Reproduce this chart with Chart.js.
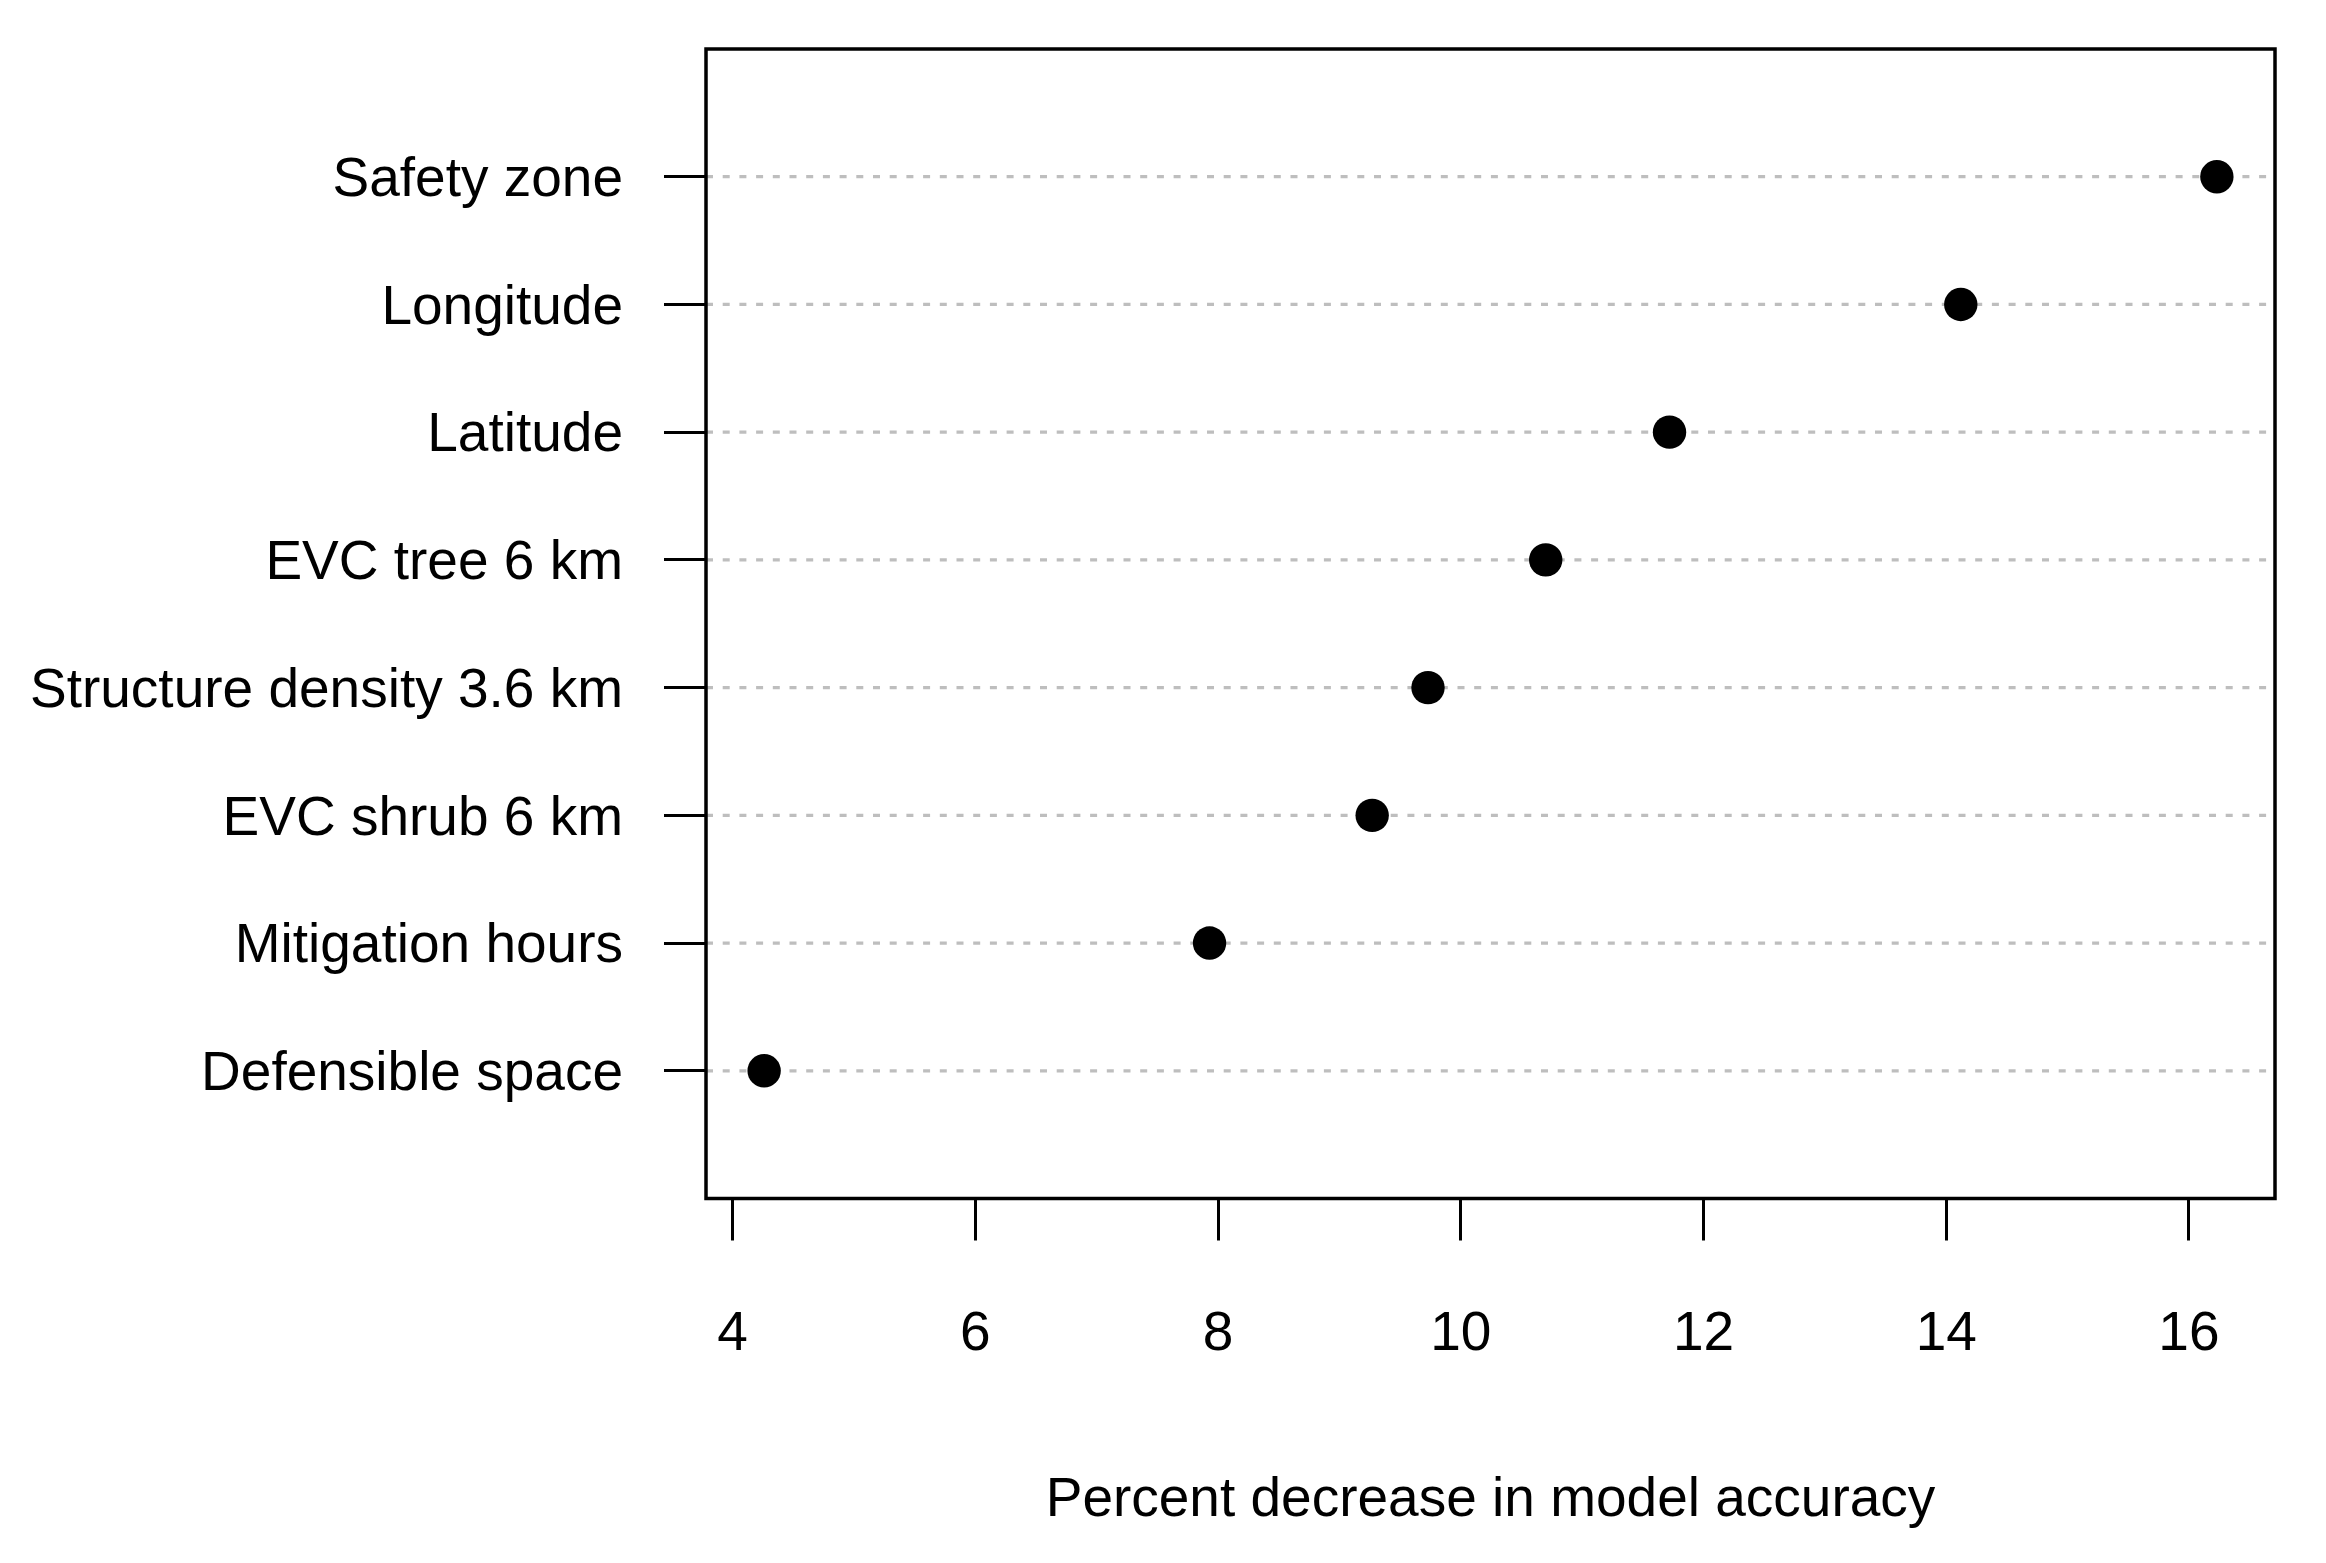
<!DOCTYPE html>
<html>
<head>
<meta charset="utf-8">
<script src="https://cdn.jsdelivr.net/npm/chart.js@4"></script>
<style>
  html, body { margin: 0; padding: 0; background: #fff; }
  #wrap { width: 2326px; height: 1563px; }
</style>
</head>
<body>
<div id="wrap"><canvas id="dotChart" width="2326" height="1563"></canvas></div>
<script>
// Variables, top to bottom as drawn
const categories = [
  "Safety zone",
  "Longitude",
  "Latitude",
  "EVC tree 6 km",
  "Structure density 3.6 km",
  "EVC shrub 6 km",
  "Mitigation hours",
  "Defensible space",
];
const accuracyDecrease = [16.23, 14.12, 11.72, 10.7, 9.73, 9.27, 7.93, 4.26];
const xTicks = [4, 6, 8, 10, 12, 14, 16];

const n = categories.length;
const font = { family: "'Liberation Sans', Arial, sans-serif", size: 55 };

// dotted guide lines behind the points
const guideLines = {
  id: "guideLines",
  beforeDatasetsDraw(chart) {
    const { ctx, chartArea, scales } = chart;
    ctx.save();
    ctx.strokeStyle = "#bebebe";
    ctx.lineWidth = 3.3;
    ctx.setLineDash([7, 9.7]);
    categories.forEach((c, i) => {
      const y = scales.y.getPixelForValue(n - i);
      ctx.beginPath();
      ctx.moveTo(chartArea.left, y);
      ctx.lineTo(chartArea.right, y);
      ctx.stroke();
    });
    ctx.restore();
  },
};

// box around the plot region
const plotBox = {
  id: "plotBox",
  afterDraw(chart) {
    const { ctx, chartArea } = chart;
    ctx.save();
    ctx.strokeStyle = "#000";
    ctx.lineWidth = 3.5;
    ctx.strokeRect(
      chartArea.left,
      chartArea.top,
      chartArea.right - chartArea.left,
      chartArea.bottom - chartArea.top
    );
    ctx.restore();
  },
};

new Chart(document.getElementById("dotChart"), {
  type: "scatter",
  data: {
    datasets: [
      {
        data: accuracyDecrease.map((v, i) => ({ x: v, y: n - i })),
        backgroundColor: "#000",
        borderWidth: 0,
        pointRadius: 16.7,
        pointHoverRadius: 16.7,
      },
    ],
  },
  options: {
    responsive: false,
    devicePixelRatio: 1,
    animation: false,
    layout: { padding: { top: 49, right: 51, left: 0, bottom: 0 } },
    plugins: {
      legend: { display: false },
      tooltip: { enabled: false },
    },
    scales: {
      x: {
        type: "linear",
        min: 3.781,
        max: 16.709,
        afterBuildTicks: (scale) => {
          scale.ticks = xTicks.map((v) => ({ value: v }));
        },
        afterFit: (scale) => {
          scale.height = 364.5;
          scale.paddingLeft = 0;
          scale.paddingRight = 0;
        },
        grid: {
          drawOnChartArea: false,
          drawTicks: true,
          tickLength: 42,
          tickWidth: 3,
          tickColor: "#000",
        },
        border: { display: false },
        ticks: {
          color: "#000",
          font: font,
          padding: 61,
          maxRotation: 0,
          autoSkip: false,
        },
        title: {
          display: true,
          text: "Percent decrease in model accuracy",
          color: "#000",
          font: font,
          padding: { top: 0, bottom: 29 },
        },
      },
      y: {
        type: "linear",
        min: 0,
        max: n + 1,
        afterBuildTicks: (scale) => {
          scale.ticks = categories.map((c, i) => ({ value: n - i }));
        },
        afterFit: (scale) => {
          scale.width = 706;
          scale.paddingTop = 0;
          scale.paddingBottom = 0;
        },
        grid: {
          drawOnChartArea: false,
          drawTicks: true,
          tickLength: 42,
          tickWidth: 3,
          tickColor: "#000",
        },
        border: { display: false },
        ticks: {
          color: "#000",
          font: font,
          padding: 41,
          labelOffset: 4,
          autoSkip: false,
          callback: (value) => categories[n - value],
        },
      },
    },
  },
  plugins: [guideLines, plotBox],
});
</script>
</body>
</html>
